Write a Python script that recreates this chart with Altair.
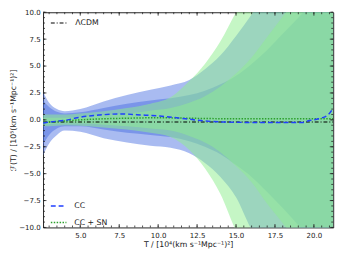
import altair as alt
import pandas as pd

# ---- data ----
T = [2.61, 3.0, 3.5, 4.0, 5.0, 6.5, 8.0, 9.5, 10.8, 12.0, 13.0, 14.0, 15.0, 16.0, 17.0, 18.0, 19.0, 20.0, 21.24]
cc_2s_hi = [2.6, 1.6, 1.0, 0.8, 1.0, 1.7, 2.3, 2.8, 3.2, 3.7, 4.7, 6.0, 7.8, 9.8, 12, 14, 16, 18, 20]
cc_1s_hi = [1.8, 1.2, 0.75, 0.6, 0.7, 1.1, 1.5, 1.8, 2.0, 2.3, 2.7, 3.3, 4.1, 5.2, 6.5, 8.0, 9.5, 11, 13]
cc_1s_lo = [-2.3, -1.4, -0.8, -0.6, -0.6, -0.9, -1.2, -1.4, -1.6, -2.0, -2.5, -3.2, -4.2, -5.3, -6.7, -8.2, -9.8, -11.5, -14]
cc_2s_lo = [-3.3, -2.2, -1.4, -1.0, -1.1, -1.7, -2.1, -2.4, -2.6, -3.1, -4.0, -5.3, -7.2, -10.2, -12, -14, -16, -18, -20]
sn_2s_hi = [0.5, 0.5, 0.5, 0.5, 0.6, 0.8, 1.1, 1.5, 2.1, 3.6, 5.2, 7.3, 10.0, 12.5, 15, 17, 19, 21, 23]
sn_1s_hi = [0.2, 0.2, 0.2, 0.2, 0.3, 0.45, 0.6, 0.85, 1.1, 1.6, 2.2, 3.1, 4.3, 5.8, 7.7, 9.6, 11.5, 13.5, 16]
sn_1s_lo = [-0.45, -0.4, -0.35, -0.35, -0.35, -0.45, -0.6, -0.8, -1.0, -1.5, -2.1, -3.0, -4.3, -5.8, -7.8, -9.6, -11.5, -13.5, -16]
sn_2s_lo = [-0.6, -0.6, -0.55, -0.5, -0.55, -0.7, -0.9, -1.2, -1.6, -2.8, -4.5, -6.9, -10.3, -12.5, -15, -17, -19, -21, -23]

cc_T = [2.61, 3.06, 4.19, 4.8, 6.25, 7.6, 9.0, 10.1, 11.75, 13.0, 14.25, 16.75, 19.25, 19.6, 20.3, 20.9, 21.24]
cc_mean = [-0.3, -0.2, 0.0, 0.2, 0.45, 0.55, 0.45, 0.35, 0.1, -0.1, -0.2, -0.25, -0.25, -0.1, 0.1, 0.45, 1.1]
sn_T = [2.61, 4.0, 5.0, 6.5, 8.0, 10.0, 12.0, 15.0, 18.0, 21.24]
sn_mean = [-0.25, -0.1, 0.0, 0.1, 0.15, 0.2, 0.15, 0.1, 0.1, 0.1]
lcdm_T = [2.61, 21.24]
lcdm_val = [-0.2, -0.2]

x_major = [5.0, 7.5, 10.0, 12.5, 15.0, 17.5, 20.0]
y_major = [-10.0, -7.5, -5.0, -2.5, 0.0, 2.5, 5.0, 7.5, 10.0]
x_minor = [3.0 + 0.5 * i for i in range(37)]
y_minor = [-10.0 + 0.5 * i for i in range(41)]

W, H = 298, 221
FONT = "DejaVu Sans"
xs = alt.Scale(domain=[2.61, 21.24], nice=False, zero=False)
ys = alt.Scale(domain=[-10, 10], nice=False, zero=False)
xaxis = alt.Axis(values=x_major, format=".1f", ticks=False, domain=False, grid=False,
                 labelPadding=4, title="T / [10⁴(km s⁻¹Mpc⁻¹)²]", titlePadding=2)
yaxis = alt.Axis(values=y_major, format=".1f", ticks=False, domain=False, grid=False,
                 labelPadding=3, title="ℱ(T) / [10⁵(km s⁻¹Mpc⁻¹)²]",
                 titleX=-30, titleY=H / 2, titleAngle=270, titleBaseline="middle", titleAlign="center")


def band(lo, hi, color, op):
    df = pd.DataFrame({"T": T, "lo": lo, "hi": hi})
    return alt.Chart(df).mark_area(color=color, opacity=op, clip=True, interpolate="monotone").encode(
        x=alt.X("T:Q", scale=xs, axis=xaxis),
        y=alt.Y("lo:Q", scale=ys, axis=yaxis),
        y2="hi:Q",
    )


bands = [
    band(cc_2s_lo, cc_2s_hi, "#4169e1", 0.45),
    band(cc_1s_lo, cc_1s_hi, "#4169e1", 0.45),
    band(sn_2s_lo, sn_2s_hi, "#90ee90", 0.52),
    band(sn_1s_lo, sn_1s_hi, "#90ee90", 0.5),
]

names = ["CC", "CC + SN"]
leg = alt.Legend(orient="none", legendX=7, legendY=190, title=None, symbolType="stroke",
                 symbolSize=256, symbolStrokeWidth=1.5, labelFontSize=8, labelFont=FONT,
                 labelOffset=7, rowPadding=4, padding=0, labelColor="#222")
col = alt.Color("name:N", scale=alt.Scale(domain=names, range=["#1f3fff", "#2ca02c"]), legend=leg)
dash = alt.StrokeDash("name:N", scale=alt.Scale(domain=names, range=[[5, 3], [1.5, 1.5]]), legend=leg)

df_sn = pd.DataFrame({"T": sn_T, "y": sn_mean, "name": "CC + SN"})
df_cc = pd.DataFrame({"T": cc_T, "y": cc_mean, "name": "CC"})


def meanline(df):
    return alt.Chart(df).mark_line(strokeWidth=1.5, clip=True, interpolate="monotone").encode(
        x=alt.X("T:Q", scale=xs, axis=xaxis),
        y=alt.Y("y:Q", scale=ys, axis=yaxis),
        color=col, strokeDash=dash,
    )


means = alt.layer(meanline(df_sn), meanline(df_cc))

df_l = pd.DataFrame({"T": lcdm_T, "y": lcdm_val, "model": "ΛCDM"})
lcdm = alt.Chart(df_l).mark_line(color="black", strokeWidth=1.2, clip=True).encode(
    x=alt.X("T:Q", scale=xs, axis=xaxis),
    y=alt.Y("y:Q", scale=ys, axis=yaxis),
    strokeDash=alt.StrokeDash("model:N", scale=alt.Scale(domain=["ΛCDM"], range=[[4, 2, 1, 2]]),
                              legend=alt.Legend(orient="none", legendX=7, legendY=1, title=None,
                                                symbolType="stroke", symbolSize=324, symbolStrokeWidth=1.2,
                                                symbolStrokeColor="black", labelFontSize=8, labelFont=FONT,
                                                labelOffset=6, padding=0, labelColor="#222")),
)

TC = "#222"


def xticks(vals, length, top):
    df = pd.DataFrame({"v": vals})
    y0, y1 = (0, length) if top else (H, H - length)
    return alt.Chart(df).mark_rule(color=TC, strokeWidth=0.8).encode(
        x=alt.X("v:Q", scale=xs, axis=xaxis), y=alt.value(y0), y2=alt.value(y1))


def yticks(vals, length, right):
    df = pd.DataFrame({"v": vals})
    x0, x1 = (W, W - length) if right else (0, length)
    return alt.Chart(df).mark_rule(color=TC, strokeWidth=0.8).encode(
        y=alt.Y("v:Q", scale=ys, axis=yaxis), x=alt.value(x0), x2=alt.value(x1))


ticks = [
    xticks(x_minor, 2, False), xticks(x_minor, 2, True),
    xticks(x_major, 3.5, False), xticks(x_major, 3.5, True),
    yticks(y_minor, 2, False), yticks(y_minor, 2, True),
    yticks(y_major, 3.5, False), yticks(y_major, 3.5, True),
]

chart = alt.layer(*bands, lcdm, means, *ticks).resolve_scale(
    strokeDash="independent", color="independent"
).properties(
    width=W, height=H,
    autosize=alt.AutoSizeParams(type="none"),
    padding={"left": 36, "top": 1, "right": 8, "bottom": 28},
).configure_view(stroke="#222", strokeWidth=1).configure_axis(
    labelFont=FONT, labelFontSize=7.2, labelColor="#222",
    titleFont=FONT, titleFontSize=8, titleFontWeight="normal", titleColor="#222",
)

chart.save("out.html", embed_options={"renderer": "svg", "actions": False})
